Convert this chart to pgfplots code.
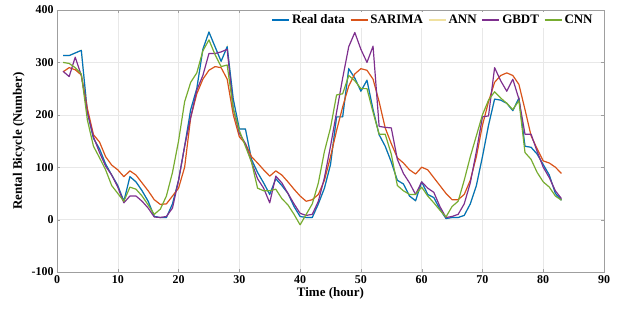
\documentclass[border=0pt]{standalone}
\usepackage{pgfplots}
\usepackage{pgfplotstable}
\pgfplotsset{compat=1.18}
\usepackage{fontspec}
\setmainfont{Liberation Serif}
\definecolor{cReal}{HTML}{0072BD}
\definecolor{cSar}{HTML}{D95319}
\definecolor{cAnn}{HTML}{F0E1A0}
\definecolor{cGb}{HTML}{7E2F8E}
\definecolor{cCnn}{HTML}{77AC30}
\pgfplotstableread{
h real sarima gbdt cnn
1 313 282 283 300
2 313 290 273 298
3 318 286 310 290
4 323 276 275 278
5 205 212 205 190
6 155 162 158 140
7 135 148 128 118
8 106 120 102 95
9 85 104 85 65
10 65 95 62 50
11 35 82 32 35
12 82 93 45 62
13 72 85 45 58
14 55 70 35 45
15 35 55 22 28
16 6 38 5 10
17 4 29 4 20
18 4 30 6 45
19 30 45 22 90
20 75 60 75 150
21 140 100 140 225
22 210 195 195 262
23 250 240 247 280
24 325 268 275 322
25 358 285 317 343
26 330 292 317 315
27 302 290 320 292
28 330 268 325 295
29 230 200 212 212
30 173 158 165 170
31 173 145 145 140
32 115 120 110 110
33 90 108 78 60
34 70 95 60 55
35 48 83 32 55
36 78 93 83 58
37 65 85 70 40
38 50 72 50 28
39 25 58 30 10
40 6 45 12 -10
41 4 35 8 10
42 4 38 10 30
43 30 48 35 70
44 60 75 80 130
45 105 120 140 175
46 196 170 205 238
47 196 215 270 240
48 288 255 330 275
49 270 278 357 265
50 245 288 325 250
51 266 285 300 250
52 210 268 331 205
53 162 225 178 163
54 140 175 176 163
55 110 145 175 125
56 75 118 115 65
57 68 108 88 55
58 45 95 70 48
59 36 87 48 48
60 72 100 72 62
61 48 95 60 45
62 42 80 52 32
63 20 65 25 18
64 2 50 4 5
65 4 38 6 25
66 4 38 10 35
67 8 48 30 75
68 30 75 70 120
69 65 120 130 160
70 120 180 196 200
71 180 225 198 228
72 230 262 290 244
73 228 275 265 232
74 222 280 245 222
75 208 275 268 210
76 232 258 230 227
77 140 210 163 128
78 138 160 163 115
79 125 135 130 90
80 105 112 100 72
81 85 108 80 62
82 50 100 55 45
83 37 88 40 37
}\datatable
\begin{document}
\begin{tikzpicture}
\begin{axis}[
  scale only axis, width=547bp, height=262bp,
  xmin=0, xmax=90, ymin=-100, ymax=400,
  xtick={0,10,...,90}, ytick={-100,0,...,400},
  tick align=inside, tick pos=both,
  major tick length=3bp,
  grid=major, major grid style={gray!18, line width=0.5pt},
  axis line style={gray!75, line width=0.6pt},
  tick style={gray!75},
  /pgf/number format/assume math mode=true,
  ticklabel style={font=\bfseries\fontsize{12}{12}\selectfont},
  label style={font=\bfseries\fontsize{13}{13}\selectfont},
  xlabel={Time (hour)}, ylabel={Rental Bicycle (Number)},
  xlabel style={yshift=3bp}, ylabel style={yshift=0bp},
  legend columns=5,
  legend style={at={(rel axis cs:0.985,0.995)}, anchor=north east, draw=none, fill=white,
    font=\bfseries\fontsize{13}{13}\selectfont, inner xsep=1bp, inner ysep=1bp,
    /tikz/every even column/.append style={column sep=3bp}},
  legend image post style={line width=1.6pt},
]
\addplot[color=cAnn, line width=1.2pt, forget plot] table[x=h, y=real] {\datatable};
\addplot[cReal, line width=1.2pt, line join=round] table[x=h, y=real] {\datatable};
\addlegendentry[text=black]{Real data}
\addplot[cSar, line width=1.2pt, line join=round] table[x=h, y=sarima] {\datatable};
\addlegendentry[text=black]{SARIMA}
\addlegendimage{cAnn, line width=1.2pt}
\addlegendentry[text=black]{ANN}
\addplot[cGb, line width=1.2pt, line join=round] table[x=h, y=gbdt] {\datatable};
\addlegendentry[text=black]{GBDT}
\addplot[cCnn, line width=1.2pt, line join=round] table[x=h, y=cnn] {\datatable};
\addlegendentry[text=black]{CNN}
\end{axis}
\path (current axis.north east) ++(25bp,10bp);
\path (current axis.south west) ++(-57bp,-43bp);
\end{tikzpicture}
\end{document}
